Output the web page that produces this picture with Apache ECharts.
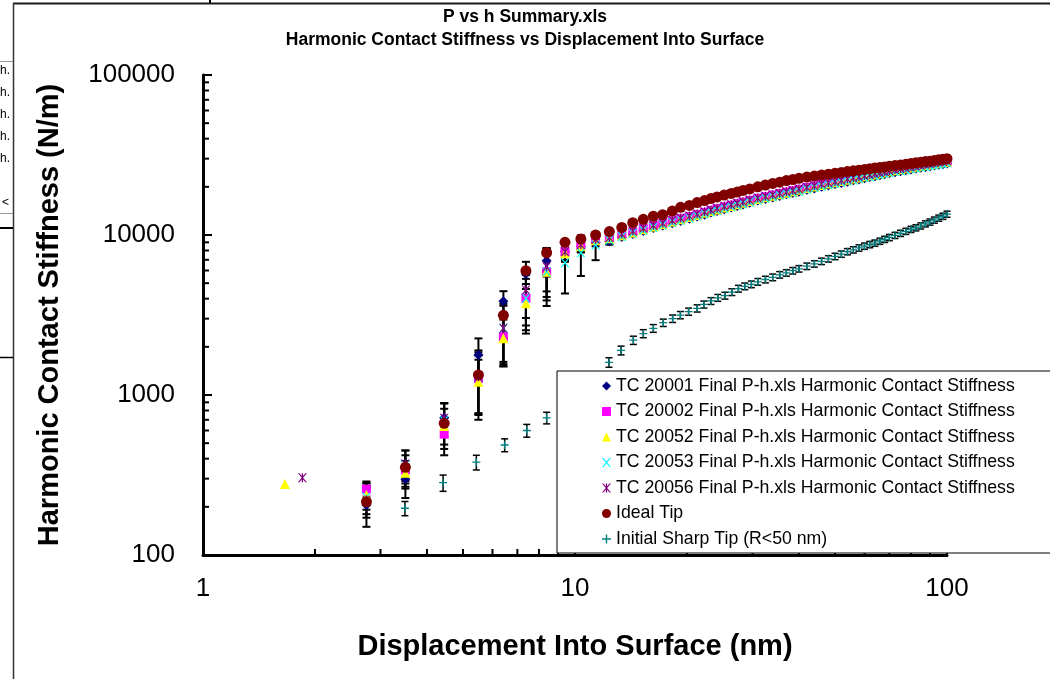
<!DOCTYPE html>
<html><head><meta charset="utf-8">
<script src="https://cdn.jsdelivr.net/npm/echarts@6/dist/echarts.min.js"></script>
<style>html,body{margin:0;padding:0;background:#fff}#c{width:1050px;height:679px}</style>
</head><body><div id="c"></div>
<script>
// Displacement Into Surface (nm) shared by the TC series and Ideal Tip
const disp = [1.66,1.85,2.75,3.5,4.45,5.5,6.42,7.38,8.39,9.4,10.37,11.36,12.37,13.36,14.3,15.26,16.24,17.21,18.26,19.23,20.3,21.3,22.3,23.2,24.1,25.2,26.3,27.3,28.3,29.5,31,32.5,34,35.5,37,38.5,40,42,44,46,48,50,52,54,56,58,60,62,64,66,68,70,72.5,75,77.5,80,82.5,85,87.5,90,92.5,95,97.5,100];

const tc20001 = [null,null,205,297,720,1778,3855,5700,6900,7900,8500,9000,
 9100,9700,10150,10600,11050,11450,11850,12250,12650,13050,13400,13800,14150,14500,14850,15200,15500,15900,16400,16800,17150,17550,17950,18300,18650,19150,19550,20000,20400,20800,21150,21550,21950,22250,22650,23000,23300,23650,24000,24300,24650,25000,25350,25700,26000,26300,26600,26900,27150,27450,27700,28000];
const tc20002 = [null,null,258,340,570,1270,2311,4020,5900,7870,8660,9400,
 9600,10050,10450,10950,11400,11800,12250,12650,13050,13450,13850,14250,14600,15000,15350,15700,16050,16450,16950,17350,17750,18150,18550,18900,19300,19800,20250,20700,21100,21500,21900,22300,22700,23050,23450,23800,24150,24500,24850,25150,25550,25900,26250,26600,26900,27250,27550,27850,28150,28450,28700,29000];
const tc20052 = [278,null,237,327,640,1211,2260,3740,5900,7700,8500,9300,
 9550,9950,10350,10850,11300,11700,12150,12550,12950,13350,13750,14100,14450,14850,15200,15550,15900,16300,16800,17200,17600,18000,18400,18750,19150,19650,20100,20550,20950,21350,21750,22150,22550,22900,23300,23650,24000,24350,24700,25000,25400,25750,26100,26450,26750,27100,27400,27700,28000,28300,28550,28850];
const tc20053 = [null,null,230,365,690,1300,2611,4020,5900,6710,7745,8660,
 9300,9800,10250,10700,11150,11550,11950,12350,12750,13150,13550,13900,14250,14650,15000,15350,15650,16050,16550,16950,17350,17750,18100,18450,18800,19300,19750,20150,20600,20950,21350,21750,22100,22450,22850,23150,23500,23850,24200,24500,24900,25250,25600,25950,26250,26550,26850,27150,27400,27700,27950,28250];
const tc20056 = [null,304,221,370,715,1300,2611,4530,6340,7870,8700,9400,
 9650,10150,10600,11050,11500,11900,12350,12750,13150,13550,13950,14350,14700,15100,15450,15800,16150,16550,17050,17450,17850,18250,18650,19000,19400,19900,20350,20800,21200,21600,22000,22400,22800,23150,23550,23900,24250,24600,24950,25250,25650,26000,26350,26700,27000,27350,27650,27950,28250,28550,28800,29100];
const idealTip = [null,null,215,353,665,1334,3150,5985,7745,9000,9440,10000,10500,11150,11940,12530,13100,13400,14100,14900,15300,15950,16400,16900,17300,17780,18200,18550,19000,19400,20000,20500,21000,21400,21900,22200,22600,23000,23350,23700,24000,24300,24600,24900,25200,25400,25700,25950,26200,26400,26650,26850,27150,27400,27650,28000,28250,28500,28750,28950,29250,29500,29750,30000];

// error (± N/m) for the first points of each TC series
const err20001 = [0,0,55,70,170,480,600,1100,1400,900,700,500,400];
const err20002 = [0,0,30,80,150,500,800,1300,2000,900,700,500,400];
const err20052 = [0,0,45,60,180,450,700,1200,1800,900,700,500,400];
const err20053 = [0,0,50,85,200,600,1100,1600,2300,2400,2200,1700,400];
const err20056 = [0,0,50,80,170,550,1000,1500,1900,900,700,500,400];

// Initial Sharp Tip (R<50 nm)
const sharpX = [3.49,4.42,5.43,6.47,7.42,8.39,9.4,10.37,11.3,12.34,13.3,14.35,15.26,16.24,17.27,18.3,19.2,20.2,21.3,22.2,23.2,24.2,25.3,26.4,27.5,28.6,29.8,31,32.5,34,35.5,37,38.5,40,42,44,46,48,50,52,54,56,58,60,62,64,66,68,70,72.5,75,77.5,80,82.5,85,87.5,90,92.5,95,97.5,100];
const sharpY = [196,283,380,487,600,720,880,1070,1290,1600,1900,2200,2420,2610,2830,3000,3160,3320,3480,3680,3870,4050,4180,4400,4620,4780,4920,5100,5270,5440,5640,5800,5980,6150,6380,6600,6850,7100,7350,7600,7870,8080,8300,8520,8720,8900,9150,9400,9650,9950,10250,10550,10850,11100,11400,11750,12050,12400,12750,13100,13500];
const sharpErr = [20,33,40,45,55,60,70,80,95,110,120,130,140,145,150,160,165,170,180,185,190,200,205,215,225,230,235,245,250,260,265,270,280,285,295,305,315,325,335,345,355,365,375,385,395,400,410,420,430,440,455,465,480,490,500,515,530,545,560,575,590];

const xTicks = [1,10,100];
const xTickLabels = ['1','10','100'];
const yTicks = [100,1000,10000,100000];
const yTickLabels = ['100','1000','10000','100000'];
const xMinorTicks = [2,3,4,5,6,7,8,9,20,30,40,50,60,70,80,90];
const yMinorTicks = [200,300,400,500,600,700,800,900,2000,3000,4000,5000,6000,7000,8000,9000,20000,30000,40000,50000,60000,70000,80000,90000];

const names = ['TC 20001 Final P-h.xls Harmonic Contact Stiffness','TC 20002 Final P-h.xls Harmonic Contact Stiffness','TC 20052 Final P-h.xls Harmonic Contact Stiffness','TC 20053 Final P-h.xls Harmonic Contact Stiffness','TC 20056 Final P-h.xls Harmonic Contact Stiffness','Ideal Tip','Initial Sharp Tip (R<50 nm)'];
const titleLines = ['P vs h Summary.xls','Harmonic Contact Stiffness vs Displacement Into Surface'];

const FONT = 'Liberation Sans, Arial, sans-serif';
function pts(xs, ys){ const o=[]; for(let i=0;i<xs.length;i++){ if(ys[i]!=null) o.push([xs[i],ys[i]]); } return o; }
function bars(xs, ys, es){ const o=[]; for(let i=0;i<es.length;i++){ if(ys[i]!=null && es[i]>0) o.push([xs[i], ys[i]-es[i], ys[i]+es[i]]); } return o; }
function errRender(cap, lw){
  return function(params, api){
    const x=api.value(0), lo=api.value(1), hi=api.value(2);
    const a=api.coord([x,hi]), b=api.coord([x,lo]);
    const s={stroke:'#000', lineWidth:lw};
    return {type:'group', children:[
      {type:'line', shape:{x1:a[0],y1:a[1],x2:b[0],y2:b[1]}, style:s},
      {type:'line', shape:{x1:a[0]-cap,y1:a[1],x2:a[0]+cap,y2:a[1]}, style:s},
      {type:'line', shape:{x1:b[0]-cap,y1:b[1],x2:b[0]+cap,y2:b[1]}, style:s}
    ]};
  };
}
function errSeries(data, cap, lw){
  return {type:'custom', renderItem: errRender(cap,lw), data:data, encode:{x:0,y:[1,2]}, z:1, silent:true, clip:false, animation:false};
}
const X_PATH='path://M0,0L1.6,0L5,3.8L8.4,0L10,0L5.8,5L10,10L8.4,10L5,6.2L1.6,10L0,10L4.2,5Z';
const STAR_PATH='path://M0,0L1.6,0L5,3.8L8.4,0L10,0L5.8,5L10,10L8.4,10L5,6.2L1.6,10L0,10L4.2,5ZM4.3,0L5.7,0L5.7,10L4.3,10Z';
const PLUS_PATH='path://M4.2,0L5.8,0L5.8,4.2L10,4.2L10,5.8L5.8,5.8L5.8,10L4.2,10L4.2,5.8L0,5.8L0,4.2L4.2,4.2Z';
function sc(name, data, symbol, size, color, z){
  return {name:name, type:'scatter', data:data, symbol:symbol, symbolSize:size, itemStyle:{color:color, opacity:1}, z:z||2, animation:false, emphasis:{disabled:true}};
}
function fmt(ticks, labels){ return function(v){ for(let i=0;i<ticks.length;i++){ if(Math.abs(ticks[i]-v)/ticks[i]<1e-6) return labels[i]; } return ''; }; }

const minorX = {type:'custom', data:xMinorTicks.map(v=>[v]), encode:{x:0}, z:3, silent:true, clip:false,
  renderItem:function(p,api){ const a=api.coord([api.value(0),100]); return {type:'line', shape:{x1:a[0],y1:a[1],x2:a[0],y2:a[1]-6}, style:{stroke:'#000',lineWidth:2}}; }};
const minorY = {type:'custom', data:yMinorTicks.map(v=>[1,v]), encode:{x:0,y:1}, z:3, silent:true, clip:false,
  renderItem:function(p,api){ const a=api.coord([1,api.value(1)]); return {type:'line', shape:{x1:a[0],y1:a[1],x2:a[0]+6,y2:a[1]}, style:{stroke:'#000',lineWidth:2}}; }};

const gLines = [];
function gl(x1,y1,x2,y2,c,w){ gLines.push({type:'line', shape:{x1:x1,y1:y1,x2:x2,y2:y2}, style:{stroke:c,lineWidth:w}, z:100}); }
gl(13,3.5,1050,3.5,'#1a1a1a',2);
gl(13.5,3,13.5,679,'#333',1.5);
gl(210,0,210,3,'#000',2);
gl(0,61.5,13,61.5,'#999',1);
gl(0,213.5,13,213.5,'#999',1);
gl(0,228,13,228,'#000',2);
gl(0,357.5,13,357.5,'#000',1.5);
[71,93,115,137,159].forEach(y=>gLines.push({type:'text', x:0, y:y, style:{text:'h.', font:'12px '+FONT, fill:'#000', textVerticalAlign:'middle'}, z:100}));
gLines.push({type:'text', x:2, y:203, style:{text:'<', font:'12px '+FONT, fill:'#000', textVerticalAlign:'middle'}, z:100});

const titleStyle = {fontFamily:FONT, fontSize:17.5, fontWeight:'bold', color:'#000'};
const chart = echarts.init(document.getElementById('c'), null, {renderer:'canvas'});
chart.setOption({
  animation:false,
  backgroundColor:'#fff',
  title:[
    {text:titleLines[0], left:'center', top:8, padding:[0,10,0,0], textStyle:titleStyle},
    {text:titleLines[1], left:'center', top:31, padding:[0,10,0,0], textStyle:titleStyle}
  ],
  grid:{left:203, right:103, top:75, bottom:124, containLabel:false},
  xAxis:{type:'log', logBase:10, min:1, max:100,
    name:'Displacement Into Surface (nm)', nameLocation:'middle', nameGap:77,
    nameTextStyle:{fontFamily:FONT, fontSize:29, fontWeight:'bold', color:'#000'},
    axisLine:{lineStyle:{color:'#000', width:3}},
    axisTick:{inside:true, length:9, lineStyle:{color:'#000', width:2}},
    axisLabel:{margin:21, fontFamily:FONT, fontSize:26, color:'#000', formatter:fmt(xTicks,xTickLabels)},
    splitLine:{show:false}},
  yAxis:{type:'log', logBase:10, min:100, max:100000,
    name:'Harmonic Contact Stiffness (N/m)', nameLocation:'middle', nameGap:139, nameRotate:90,
    nameTextStyle:{fontFamily:FONT, fontSize:29, fontWeight:'bold', color:'#000'},
    axisLine:{lineStyle:{color:'#000', width:3}},
    axisTick:{inside:true, length:9, lineStyle:{color:'#000', width:2}},
    axisLabel:{margin:28, fontFamily:FONT, fontSize:26, color:'#000', formatter:fmt(yTicks,yTickLabels)},
    splitLine:{show:false}},
  legend:{orient:'vertical', left:557, top:371, padding:[6,45,5,45], itemGap:7.5, itemWidth:9, itemHeight:9,
    backgroundColor:'#fff', borderColor:'#000', borderWidth:1, z:10, selectedMode:false,
    textStyle:{fontFamily:FONT, fontSize:17.7, color:'#000', lineHeight:18}, data:names},
  graphic:gLines,
  series:[
    minorX, minorY,
    errSeries(bars(disp,tc20001,err20001),4,2),
    errSeries(bars(disp,tc20002,err20002),4,2),
    errSeries(bars(disp,tc20052,err20052),4,2),
    errSeries(bars(disp,tc20053,err20053),4,2),
    errSeries(bars(disp,tc20056,err20056),4,2),
    errSeries(bars(sharpX,sharpY,sharpErr),3.5,1.5),
    sc(names[0], pts(disp,tc20001), 'diamond', 10, '#000080'),
    sc(names[1], pts(disp,tc20002), 'rect', 9, '#FF00FF'),
    sc(names[2], pts(disp,tc20052), 'triangle', 10, '#FFFF00'),
    sc(names[3], pts(disp,tc20053), X_PATH, 9, '#00FFFF'),
    sc(names[4], pts(disp,tc20056), STAR_PATH, 9, '#800080'),
    sc(names[5], pts(disp,idealTip), 'circle', 11, '#800000'),
    sc(names[6], pts(sharpX,sharpY), PLUS_PATH, 8, '#008080', 3)
  ]
});
</script></body></html>
